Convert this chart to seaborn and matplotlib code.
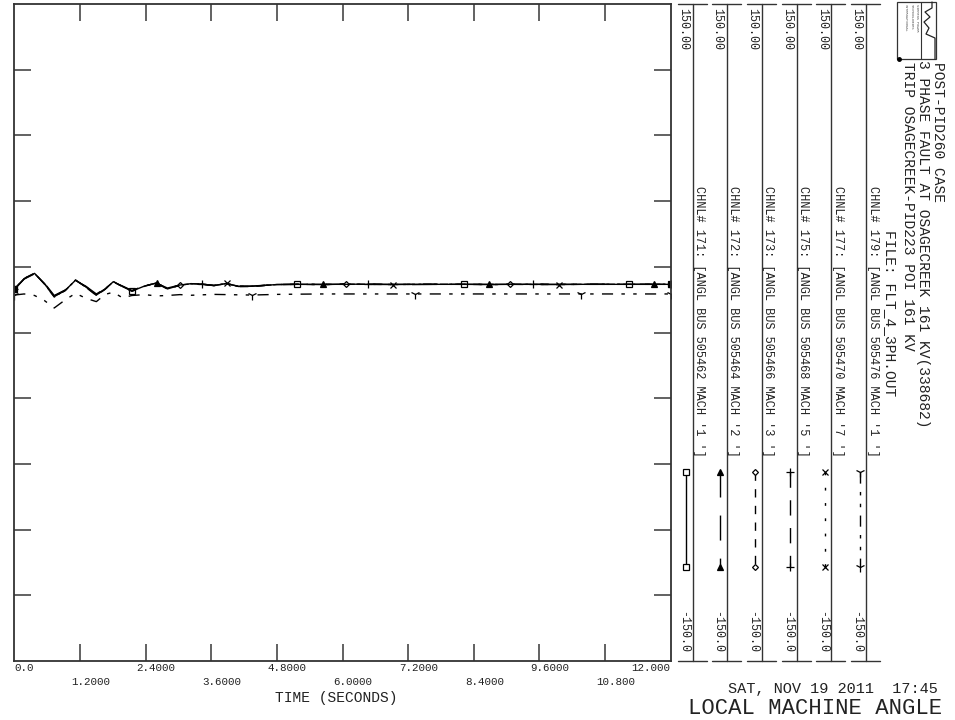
import matplotlib
matplotlib.use("Agg")
from matplotlib import pyplot as plt
from matplotlib import transforms
from matplotlib.patches import Rectangle
import numpy as np
import pandas as pd
import seaborn as sns

# time grid (s)
t = [0.0, 0.18, 0.37, 0.55, 0.73, 0.93, 1.12, 1.31, 1.50, 1.66, 1.81, 1.98, 2.15, 2.38,
     2.60, 2.80, 3.03, 3.23, 3.43, 3.65, 3.88, 4.10, 4.34, 4.80, 5.17, 5.64, 6.06, 6.47,
     6.93, 7.33, 7.80, 8.22, 8.67, 9.07, 9.49, 9.96, 10.36, 10.80, 11.24, 11.69, 12.0]

# machine angles (deg)
ang_171 = [19.7, 24.6, 27.0, 22.3, 16.4, 19.2, 23.9, 20.8, 17.1, 19.8, 23.2, 21.0, 18.9, 21.2,
           22.6, 19.9, 21.6, 22.3, 22.1, 21.4, 22.4, 21.0, 21.1, 21.9, 22.0, 21.9, 22.1, 22.0,
           21.9, 22.0, 22.0, 22.0, 21.9, 22.0, 22.0, 21.9, 22.0, 22.0, 22.0, 22.0, 22.0]
ang_172 = [19.7, 24.4, 26.8, 22.6, 16.9, 19.4, 23.7, 21.1, 17.6, 20.0, 23.0, 21.2, 19.2, 21.3,
           22.5, 20.3, 21.7, 22.2, 22.0, 21.5, 22.3, 21.2, 21.2, 21.9, 22.0, 22.0, 22.0, 22.0,
           22.0, 21.9, 22.0, 22.0, 22.0, 22.0, 21.9, 22.0, 22.0, 22.0, 22.0, 22.0, 22.0]
ang_173 = [19.7, 24.7, 27.1, 22.1, 16.2, 19.1, 24.0, 20.6, 16.9, 19.7, 23.3, 20.9, 18.8, 21.1,
           22.7, 19.8, 21.6, 22.3, 22.1, 21.4, 22.4, 21.0, 21.0, 21.9, 22.0, 21.9, 22.1, 22.0,
           21.9, 22.0, 22.0, 22.0, 21.9, 22.0, 22.0, 21.9, 22.0, 22.0, 22.0, 22.0, 22.0]
ang_175 = [19.7, 24.5, 26.9, 22.4, 16.6, 19.3, 23.8, 20.9, 17.3, 19.9, 23.1, 21.0, 19.0, 21.2,
           22.6, 20.1, 21.7, 22.2, 22.1, 21.5, 22.3, 21.1, 21.1, 21.9, 22.0, 22.0, 22.0, 22.0,
           22.0, 22.0, 22.0, 22.0, 22.0, 22.0, 22.0, 22.0, 22.0, 22.0, 22.0, 22.0, 22.0]
ang_177 = [19.7, 24.6, 27.0, 22.2, 16.4, 19.2, 23.9, 20.7, 17.0, 19.8, 23.2, 20.9, 18.9, 21.2,
           22.6, 19.9, 21.6, 22.3, 22.1, 21.4, 22.4, 21.0, 21.1, 21.9, 22.0, 21.9, 22.0, 22.0,
           21.9, 22.0, 22.0, 22.0, 21.9, 22.0, 22.0, 21.9, 22.0, 22.0, 22.0, 22.0, 22.0]
ang_179 = [17.1, 17.6, 16.9, 14.6, 11.2, 14.9, 17.9, 15.6, 14.1, 17.4, 18.4, 15.8, 16.9, 17.3,
           16.7, 16.9, 17.3, 17.0, 17.2, 17.4, 17.3, 17.2, 17.1, 17.4, 17.5, 17.6, 17.6, 17.6,
           17.6, 17.6, 17.6, 17.6, 17.6, 17.6, 17.6, 17.6, 17.6, 17.6, 17.6, 17.6, 17.6]

# times where each channel carries its symbol
mark_171 = [0.0, 2.15, 5.17, 8.22, 11.24, 12.0]
mark_172 = [0.0, 2.60, 5.64, 8.67, 11.69, 12.0]
mark_173 = [0.0, 3.03, 6.06, 9.07, 12.0]
mark_175 = [0.0, 3.43, 6.47, 9.49, 12.0]
mark_177 = [0.0, 3.88, 6.93, 9.96, 12.0]
mark_179 = [0.0, 4.34, 7.33, 10.36, 12.0]

channels = ['171', '172', '173', '175', '177', '179']
labels = ["CHNL# 171: [ANGL BUS 505462 MACH '1 ']",
          "CHNL# 172: [ANGL BUS 505464 MACH '2 ']",
          "CHNL# 173: [ANGL BUS 505466 MACH '3 ']",
          "CHNL# 175: [ANGL BUS 505468 MACH '5 ']",
          "CHNL# 177: [ANGL BUS 505470 MACH '7 ']",
          "CHNL# 179: [ANGL BUS 505476 MACH '1 ']"]
y_max = [150.0] * 6
y_min = [-150.0] * 6
x_ticks = [0.0, 1.2, 2.4, 3.6, 4.8, 6.0, 7.2, 8.4, 9.6, 10.8, 12.0]
x_ticklabels = ['0.0', '1.2000', '2.4000', '3.6000', '4.8000', '6.0000',
                '7.2000', '8.4000', '9.6000', '10.800', '12.000']

values = [ang_171, ang_172, ang_173, ang_175, ang_177, ang_179]
marks = [mark_171, mark_172, mark_173, mark_175, mark_177, mark_179]

df = pd.concat([pd.DataFrame({'Time': t, 'Angle': v, 'Channel': c})
                for c, v in zip(channels, values)], ignore_index=True)

styles = {
    '171': dict(linestyle='-', marker='s', ms=4.0, mfc='white'),
    '172': dict(linestyle=(0, (18, 13)), marker='^', ms=4.0, mfc='black'),
    '173': dict(linestyle=(0, (6, 6)), marker='D', ms=3.0, mfc='white'),
    '175': dict(linestyle=(0, (11, 9)), marker='+', ms=5.5, mfc='none'),
    '177': dict(linestyle=(0, (2, 9)), marker='x', ms=4.0, mfc='none'),
    '179': dict(linestyle=(0, (8, 6, 2.5, 6, 2.5, 6)), marker='1', ms=7.0, mfc='none'),
}

sns.set_style('white')
plt.rcParams['font.family'] = ['Liberation Mono', 'DejaVu Sans Mono']
plt.rcParams['lines.scale_dashes'] = False

W, H = 955, 720
fig = plt.figure(figsize=(W / 100, H / 100), dpi=100)

# plot box in pixels
L, R, T, B = 14.3, 670.7, 4, 661
ax = fig.add_axes([L / W, 1 - B / H, (R - L) / W, (B - T) / H])

for c, m in zip(channels, marks):
    sub = df[df['Channel'] == c]
    idx = [t.index(x) for x in m]
    st = styles[c]
    sns.lineplot(data=sub, x='Time', y='Angle', ax=ax, color='black', lw=1.0,
                 linestyle=st['linestyle'], marker=st['marker'], ms=st['ms'],
                 mfc=st['mfc'], mec='black', mew=0.9, markevery=idx,
                 errorbar=None, legend=False)

ax.set_xlim(0, 12)
ax.set_ylim(y_min[0], y_max[0])
ax.set_xticks(x_ticks[1:-1])
ax.set_yticks(np.arange(-120, 121, 30))
ax.tick_params(axis='both', which='both', direction='in', length=12, width=1.3,
               color='#555555', top=True, bottom=True, left=True, right=True,
               labelbottom=False, labelleft=False)
ax.set_xlabel('')
ax.set_ylabel('')
for s in ax.spines.values():
    s.set_color('#333333')
    s.set_linewidth(1.3)

# x tick labels in two staggered rows
blend = transforms.blended_transform_factory(ax.transData, fig.transFigure)
for i, (xv, lab) in enumerate(zip(x_ticks, x_ticklabels)):
    yy = 1 - (668 if i % 2 == 0 else 682) / H
    if i == 0:
        ha, dx = 'left', 0
    elif i == len(x_ticks) - 1:
        ha, dx = 'right', 0
    else:
        ha, dx = 'left', -9
    tr = transforms.offset_copy(blend, fig=fig, x=dx, y=0, units='dots')
    ax.text(xv, yy, lab, transform=tr, ha=ha, va='center', fontsize=7.8, color='#222222')

# overlay in pixel units for the channel panel and titles
ov = fig.add_axes([0, 0, 1, 1])
ov.set_xlim(0, W)
ov.set_ylim(H, 0)
ov.axis('off')
ov.patch.set_alpha(0)

col_lines = [692.7, 726.7, 761.7, 796.7, 831.3, 866.0]
for i, xl in enumerate(col_lines):
    ov.plot([xl, xl], [T, B], color='#333333', lw=1.0)
    ov.plot([xl - 15, xl + 14], [T, T], color='#333333', lw=1.0)
    ov.plot([xl - 15, xl + 14], [B, B], color='#333333', lw=1.0)
    xt = xl - 9.5
    ov.text(xt, 8, f'{y_max[i]:.2f}', rotation=270, ha='center', va='top',
            fontsize=8.4, color='#222222')
    ov.text(xt, 653, f'{y_min[i]:.1f}', rotation=270, ha='center', va='bottom',
            fontsize=8.4, color='#222222')
    ov.text(xl + 6.5, 186, labels[i], rotation=270, ha='center', va='top',
            fontsize=8.6, color='#222222')
    st = styles[channels[i]]
    xs = xl - 6.5
    ov.plot([xs, xs], [472, 567], color='black', lw=1.0, linestyle=st['linestyle'],
            marker=st['marker'], ms=st['ms'], mfc=st['mfc'], mec='black', mew=0.9)

# logo box
ov.add_patch(Rectangle((897, 2), 39, 57, fill=False, ec='#333333', lw=0.9))
ov.plot([921, 921], [2, 59], color='#333333', lw=0.8)
for k, s in enumerate(['SIEMENS POWER', 'TECHNOLOGIES', 'INTERNATIONAL']):
    ov.text(917 - k * 5.5, 4, s, rotation=270, ha='center', va='top',
            fontsize=2.6, color='#555555')
ov.plot([932, 932, 925, 930, 924, 929, 926, 935, 935],
        [2, 8, 12, 17, 22, 28, 34, 38, 59], color='#222222', lw=0.9)
ov.plot([898.5], [59], marker='o', ms=2.5, color='black')

ov.text(938, 62, 'POST-PID260 CASE', rotation=270, ha='center', va='top',
        fontsize=10.5, color='#222222')
ov.text(923, 60, '3 PHASE FAULT AT OSAGECREEK 161 KV(338682)', rotation=270,
        ha='center', va='top', fontsize=10.5, color='#222222')
ov.text(908, 62, 'TRIP OSAGECREEK-PID223 POI 161 KV', rotation=270, ha='center',
        va='top', fontsize=10.5, color='#222222')
ov.text(890, 230, 'FILE: FLT_4_3PH.OUT', rotation=270, ha='center', va='top',
        fontsize=10.5, color='#222222')

ov.text(336, 698, 'TIME (SECONDS)', ha='center', va='center', fontsize=10.5, color='#222222')
ov.text(938, 689, 'SAT, NOV 19 2011  17:45', ha='right', va='center', fontsize=11,
        color='#222222')
ov.text(942, 708, 'LOCAL MACHINE ANGLE', ha='right', va='center', fontsize=16,
        color='#222222')

fig.savefig('out.png', dpi=100)
